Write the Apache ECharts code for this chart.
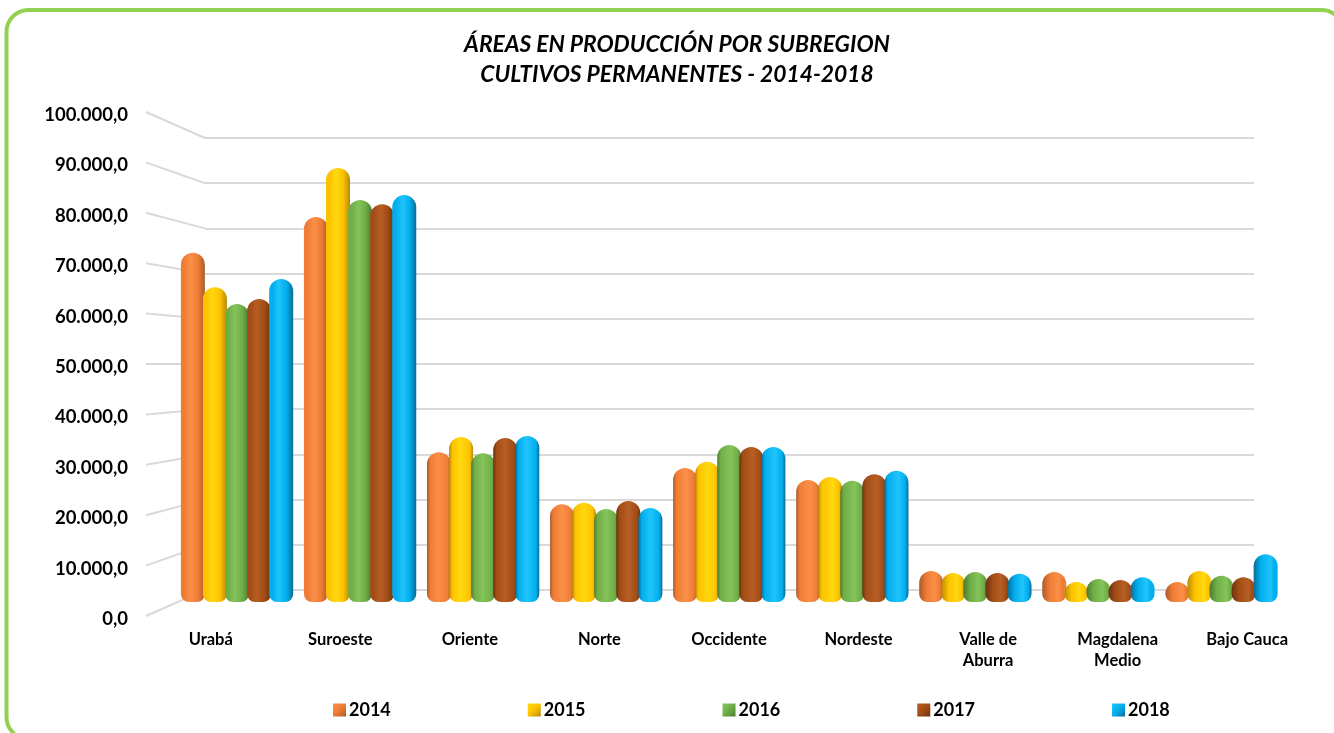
<!DOCTYPE html>
<html>
<head>
<meta charset="utf-8">
<title>Áreas en producción por subregión</title>
<script src="https://cdn.jsdelivr.net/npm/echarts@6/dist/echarts.min.js"></script>
<style>
  html, body { margin: 0; padding: 0; background: #fff; overflow: hidden; }
  #chart { width: 1334px; height: 733px; }
</style>
</head>
<body>
<div id="chart"></div>
<script>
const categories = ["Urabá", "Suroeste", "Oriente", "Norte", "Occidente", "Nordeste", "Valle de\nAburra", "Magdalena\nMedio", "Bajo Cauca"];
const years = ["2014", "2015", "2016", "2017", "2018"];
const tickValues = [0, 10000, 20000, 30000, 40000, 50000, 60000, 70000, 80000, 90000, 100000];

const values2014 = [73200, 80700, 31400, 20500, 28100, 25600, 6500, 6300, 4200];
const values2015 = [66000, 91000, 34600, 20800, 29400, 26200, 6100, 4200, 6500];
const values2016 = [62500, 84300, 31200, 19500, 32900, 25400, 6300, 4800, 5500];
const values2017 = [63500, 83400, 34400, 21200, 32500, 26800, 6100, 4600, 5200];
const values2018 = [67700, 85300, 34800, 19700, 32500, 27500, 5900, 5200, 10000];
const seriesValues = [values2014, values2015, values2016, values2017, values2018];

// sombra, base, brillo de cada cilindro
const palette = [
  ["#a85a2c", "#ef7c35", "#fb9049"],
  ["#b58a08", "#fdc100", "#ffd90f"],
  ["#4c7a30", "#70ad47", "#84c45a"],
  ["#6a3210", "#a24c16", "#b65e24"],
  ["#0a6c96", "#02aeee", "#1fc4fb"]
];

// pared del fondo, eje frontal y plano medio donde van las barras
const front = { left: 146, right: 22, top: 112, bottom: 117 };
const back = { left: 205, right: 80, top: 138, bottom: 143 };
const mid = { left: 175.5, right: 51, top: 125, bottom: 131 };
const yMax = 100000;

const chart = echarts.init(document.getElementById("chart"));

const cylinder = (c, idx) => {
  // el brillo se corre con la perspectiva: izquierda ve el lado derecho y al reves
  const p = 0.4 + 0.3 * (idx / (categories.length - 1));
  const shadeL = idx < 2 ? c[1] : c[0];
  const shadeR = idx > 6 ? c[1] : c[0];
  return new echarts.graphic.LinearGradient(0, 0, 1, 0, [
    { offset: 0, color: shadeL },
    { offset: idx > 5 ? 0.3 : 0.14, color: c[1] },
    { offset: p, color: c[2] },
    { offset: idx < 2 ? 0.72 : 0.86, color: c[1] },
    { offset: 1, color: shadeR }
  ]);
};

const barSeries = years.map((y, s) => ({
  name: y,
  type: "bar",
  xAxisIndex: 2,
  yAxisIndex: 2,
  barWidth: 24,
  barGap: "-8%",
  z: 3,
  itemStyle: {
    color: new echarts.graphic.LinearGradient(0, 0, 1, 1, [
      { offset: 0, color: palette[s][2] },
      { offset: 0.5, color: palette[s][1] },
      { offset: 1, color: palette[s][0] }
    ])
  },
  data: seriesValues[s].map((v, i) => ({
    value: v,
    itemStyle: {
      color: cylinder(palette[s], i),
      borderRadius: [12, 12, 8, 8]
    }
  }))
}));

// lineas diagonales que unen el eje frontal con la pared del fondo
const diagonalSeries = {
  name: "diagonales",
  type: "custom",
  xAxisIndex: 0,
  yAxisIndex: 0,
  z: 1,
  silent: true,
  data: tickValues.map(v => [0, v]),
  renderItem: (params, api) => {
    const v = api.value(1);
    const start = api.coord([0, v]);
    const backH = 733 - back.top - back.bottom;
    return {
      type: "line",
      shape: {
        x1: front.left,
        y1: start[1],
        x2: back.left,
        y2: back.top + (1 - v / yMax) * backH
      },
      style: { stroke: "#d9d9d9", lineWidth: 2 }
    };
  }
};

const hiddenX = { type: "category", data: categories, show: false };

const option = {
  animation: false,
  backgroundColor: "#fff",
  textStyle: { fontFamily: "Lato" },
  graphic: [
    {
      type: "rect",
      z: 0,
      shape: { x: 6.5, y: 10, width: 1337, height: 729, r: 22 },
      style: { fill: "#fff", stroke: "#92d050", lineWidth: 4 }
    }
  ],
  title: {
    text: "ÁREAS EN PRODUCCIÓN POR SUBREGION\nCULTIVOS PERMANENTES - 2014-2018",
    left: 672,
    top: 25,
    textAlign: "center",
    textStyle: {
      fontFamily: "Lato",
      fontSize: 22.8,
      fontWeight: "bold",
      fontStyle: "italic",
      color: "#000",
      lineHeight: 30
    }
  },
  legend: {
    data: years,
    left: 328,
    top: 696,
    icon: "rect",
    itemWidth: 13,
    itemHeight: 13,
    itemGap: 137,
    textStyle: { fontFamily: "Lato", fontSize: 18, fontWeight: "bold", color: "#000", padding: [0, 0, 0, -2] }
  },
  grid: [
    { ...front, containLabel: false },
    { ...back, containLabel: false },
    { ...mid, containLabel: false }
  ],
  xAxis: [
    {
      type: "category",
      data: categories,
      gridIndex: 0,
      axisLine: { show: false },
      axisTick: { show: false },
      axisLabel: {
        interval: 0,
        margin: 13,
        fontFamily: "Lato",
        fontSize: 16.5,
        fontWeight: "bold",
        color: "#000",
        lineHeight: 21
      }
    },
    { ...hiddenX, gridIndex: 1 },
    { ...hiddenX, gridIndex: 2 }
  ],
  yAxis: [
    {
      type: "value",
      gridIndex: 0,
      min: 0,
      max: yMax,
      interval: 10000,
      axisLine: { show: false },
      axisTick: { show: false },
      splitLine: { show: false },
      axisLabel: {
        margin: 18,
        // baja el texto unos pixeles respecto a la diagonal
        verticalAlign: "top",
        lineHeight: 6,
        fontFamily: "Lato",
        fontSize: 18.5,
        fontWeight: "bold",
        color: "#000",
        formatter: v => v.toLocaleString("de-DE") + ",0"
      }
    },
    {
      type: "value",
      gridIndex: 1,
      min: 0,
      max: yMax,
      interval: 10000,
      axisLine: { show: false },
      axisTick: { show: false },
      axisLabel: { show: false },
      splitLine: { show: true, lineStyle: { color: "#d9d9d9", width: 2 } }
    },
    {
      type: "value",
      gridIndex: 2,
      min: 0,
      max: yMax,
      show: false,
      splitLine: { show: false }
    }
  ],
  series: [diagonalSeries, ...barSeries]
};

chart.setOption(option);
window.addEventListener("resize", () => chart.resize());
</script>
</body>
</html>
